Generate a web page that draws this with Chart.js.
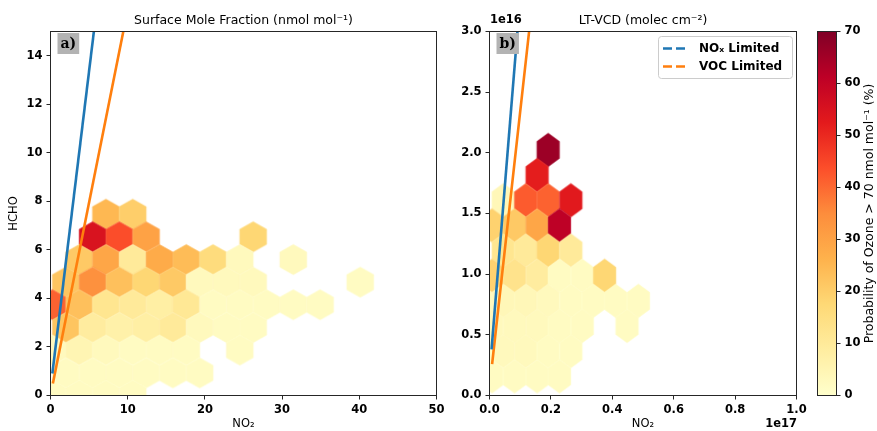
<!DOCTYPE html>
<html><head><meta charset="utf-8">
<script src="https://cdn.jsdelivr.net/npm/chart.js@4.4.0/dist/chart.umd.min.js"></script>
<style>
html,body{margin:0;padding:0;background:#fff;}
#wrap{position:relative;width:877px;height:431px;overflow:hidden;}
canvas{position:absolute;left:0;top:0;}
</style></head><body>
<div id="wrap">
<canvas id="cA" width="877" height="431"></canvas>
<canvas id="cB" width="877" height="431"></canvas>
<canvas id="cC" width="877" height="431"></canvas>
</div>
<script>
// ---------------- DATA ----------------
// Panel a) Surface mole fraction: hexbin centres (NO2, HCHO in nmol/mol) and probability (%)
const aX = [7.18,10.65,
  5.45,8.92,12.38,26.25,
  3.72,7.18,10.65,14.12,17.59,21.05,24.52,31.45,
  1.98,5.45,8.92,12.38,15.85,19.32,22.79,26.25,40.12,
  0.25,3.72,7.18,10.65,14.12,17.59,21.05,24.52,27.99,31.45,34.92,
  1.98,5.45,8.92,12.38,15.85,19.32,22.79,26.25,
  0.25,3.72,7.18,10.65,14.12,17.59,24.52,
  1.98,5.45,8.92,12.38,15.85,19.32,
  0.25,3.72,7.18,10.65];
const aY = [7.47,7.47,
  6.54,6.54,6.54,6.54,
  5.60,5.60,5.60,5.60,5.60,5.60,5.60,5.60,
  4.67,4.67,4.67,4.67,4.67,4.67,4.67,4.67,4.67,
  3.74,3.74,3.74,3.74,3.74,3.74,3.74,3.74,3.74,3.74,3.74,
  2.80,2.80,2.80,2.80,2.80,2.80,2.80,2.80,
  1.87,1.87,1.87,1.87,1.87,1.87,1.87,
  0.93,0.93,0.93,0.93,0.93,0.93,
  0,0,0,0];
const aP = [25,20,
  55,44,30,18,
  21,29,10,28,24,16,3,3,
  22,34,23,18,21,3,3,3,2,
  41,23,12,10,8,11,2,2,2,2,2,
  22,9,7,8,10,3,2,2,
  3,5,3,2,2,2,2,
  2,2,2,2,2,2,
  2,2,2,2];
// Panel b) LT-VCD: hexbin centres (NO2 in 1e17, HCHO in 1e16 molec/cm2) and probability (%)
const bX = [0.191,
  0.155,
  0.0446,0.118,0.191,0.265,
  0.0081,0.0815,0.155,0.228,
  0.0446,0.118,0.191,0.265,
  0.0081,0.0815,0.155,0.228,0.302,0.375,
  -0.029,0.0446,0.118,0.191,0.265,0.338,0.411,0.485,
  0.0081,0.0815,0.155,0.228,0.302,0.448,
  -0.029,0.0446,0.118,0.191,0.265,
  0.0081,0.0815,0.155,0.228];
const bY = [2.024,
  1.817,
  1.609,1.609,1.609,1.609,
  1.402,1.402,1.402,1.402,
  1.195,1.195,1.195,1.195,
  0.987,0.987,0.987,0.987,0.987,0.987,
  0.780,0.780,0.780,0.780,0.780,0.780,0.780,0.780,
  0.573,0.573,0.573,0.573,0.573,0.573,
  0.366,0.366,0.366,0.366,0.366,
  0.158,0.158,0.158,0.158];
const bP = [66,
  52,
  4,42,41,53,
  19,21,29,61,
  12,10,18,10,
  19,13,9,2,2,18,
  3,4,4,3,2,2,2,2,
  3,3,3,2,2,2,
  2,3,3,2,2,
  2,2,2,2];
// Regime lines
const noxAX = [0.26, 5.62], noxAY = [0.96, 15.0];
const vocAX = [0.34, 9.43], vocAY = [0.55, 15.0];
const noxBX = [0.007, 0.091], noxBY = [0.39, 3.0];
const vocBX = [0.009, 0.129], vocBY = [0.27, 3.0];
// Hexagon sizes (data units): width, height
const A_SX = 3.467, A_H = 1.245;
const B_SX = 0.0734, B_H = 0.2767;
// Axis ticks / ranges
const aXTicks = {min:0, max:50, step:10};
const aYTicks = {min:0, max:15, step:2};
const bXTicks = {min:0, max:1.0, step:0.2};
const bYTicks = {min:0, max:3.0, step:0.5};
const CBAR_MIN = 0, CBAR_MAX = 70, CBAR_STEP = 10;
const legendLabels = ['NOₓ Limited', 'VOC Limited'];

// ---------------- helpers ----------------
const FAM = "'DejaVu Sans', sans-serif";
Chart.defaults.font.family = FAM;
const YLORRD = ['#ffffcc','#ffeda0','#fed976','#feb24c','#fd8d3c','#fc4e2a','#e31a1c','#bd0026','#800026'];
const STOPS = YLORRD.map(h => [parseInt(h.slice(1,3),16),parseInt(h.slice(3,5),16),parseInt(h.slice(5,7),16)]);
function cmap(p){
  let t = (p-CBAR_MIN)/(CBAR_MAX-CBAR_MIN); t = Math.max(0, Math.min(1, t));
  const s = t*8; const i = Math.min(7, Math.floor(s)); const f = s-i;
  const a = STOPS[i], b = STOPS[i+1];
  return 'rgb(' + a.map((v,k)=>Math.round(v+(b[k]-v)*f)).join(',') + ')';
}
const hexCache = {};
function hexStyle(ctx, sxData, hData){
  if (!ctx.raw) return 'circle';
  const ch = ctx.chart, xs = ch.scales.x, ys = ch.scales.y;
  const w = Math.abs(xs.getPixelForValue(sxData) - xs.getPixelForValue(0));
  const h = Math.abs(ys.getPixelForValue(hData) - ys.getPixelForValue(0));
  if (!isFinite(w) || !isFinite(h) || w <= 0 || h <= 0) return 'circle';
  const col = cmap(ctx.raw.p);
  const key = col + '|' + w.toFixed(2) + '|' + h.toFixed(2);
  if (hexCache[key]) return hexCache[key];
  const W = Math.ceil(w) + 4, H = Math.ceil(h) + 4;
  const c = document.createElement('canvas'); c.width = W; c.height = H;
  const g = c.getContext('2d'); const cx = W/2, cy = H/2;
  g.beginPath();
  g.moveTo(cx, cy-h/2); g.lineTo(cx+w/2, cy-h/4); g.lineTo(cx+w/2, cy+h/4);
  g.lineTo(cx, cy+h/2); g.lineTo(cx-w/2, cy+h/4); g.lineTo(cx-w/2, cy-h/4); g.closePath();
  g.fillStyle = col; g.fill(); g.strokeStyle = col; g.lineWidth = 0.6; g.stroke();
  hexCache[key] = c; return c;
}
const pts = (xs, ys) => xs.map((x,i)=>({x, y: ys[i]}));
const hexPts = (xs, ys, ps) => xs.map((x,i)=>({x, y: ys[i], p: ps[i]}));

const TICK_FONT = {family: FAM, size: 11.5, weight: 'bold'};
const framePlugin = {
  id: 'frame',
  afterDraw(chart){
    const {ctx, chartArea: a} = chart;
    ctx.save(); ctx.strokeStyle = '#262626'; ctx.lineWidth = 1;
    ctx.strokeRect(a.left, a.top, a.right-a.left, a.bottom-a.top);
    ctx.restore();
  }
};
function panelLabel(txt){
  return {
    id: 'plabel',
    afterDraw(chart){
      const {ctx, chartArea: a} = chart;
      ctx.save();
      ctx.font = "bold 14px 'DejaVu Serif', serif";
      const tw = ctx.measureText(txt).width;
      const x0 = a.left + 7, y0 = a.top + 1.5;
      ctx.fillStyle = '#b3b3b3';
      ctx.fillRect(x0, y0, tw + 6, 21);
      ctx.fillStyle = '#000'; ctx.textBaseline = 'middle';
      ctx.fillText(txt, x0 + 3, y0 + 11);
      ctx.restore();
    }
  };
}
function axisCommon(t, fit, titleText, titlePad){
  return {
    type: 'linear', min: t.min, max: t.max,
    ticks: {stepSize: t.step, includeBounds: false, font: TICK_FONT, color: '#000', padding: 4,
            callback: v => (t.step < 1 ? v.toFixed(1) : String(v))},
    grid: {display: true, drawOnChartArea: false, drawTicks: true, tickLength: 4, color: '#262626', lineWidth: 1},
    border: {display: false},
    title: {display: !!titleText, text: titleText || '', color: '#000', font: {family: FAM, size: 11.5}, padding: titlePad || 0},
    afterFit: fit
  };
}
function lineDS(xs, ys, color){
  return {type: 'line', data: pts(xs, ys), borderColor: color, backgroundColor: color, borderWidth: 2.6,
          pointRadius: 0, fill: false, order: 0, clip: 0, borderCapStyle: 'square', tension: 0};
}
function hexDS(xs, ys, ps, sx, h){
  return {type: 'scatter', data: hexPts(xs, ys, ps), pointStyle: ctx => hexStyle(ctx, sx, h),
          pointRadius: 30, borderWidth: 0, order: 5, clip: 0};
}
function titleOpt(text){
  return {display: true, text, fullSize: false, color: '#000', font: {family: FAM, size: 12.5, weight: 'normal'},
          padding: {top: 13.5, bottom: 3}};
}

// ---------------- Panel a ----------------
new Chart(document.getElementById('cA'), {
  type: 'scatter',
  data: {datasets: [lineDS(noxAX, noxAY, '#1f77b4'), lineDS(vocAX, vocAY, '#ff7f0e'), hexDS(aX, aY, aP, A_SX, A_H)]},
  options: {
    responsive: false, animation: false, events: [], devicePixelRatio: 1,
    layout: {padding: {left: 0, right: 440.5, top: 0, bottom: 0}},
    plugins: {legend: {display: false}, tooltip: {enabled: false}, title: titleOpt('Surface Mole Fraction (nmol mol⁻¹)')},
    scales: {
      x: axisCommon(aXTicks, s => { s.height = 35.5; }, 'NO₂', {top: 0, bottom: 0}),
      y: axisCommon(aYTicks, s => { s.width = 50.5; }, 'HCHO', {top: 7, bottom: 0})
    }
  },
  plugins: [framePlugin, panelLabel('a)')]
});

// ---------------- Panel b ----------------
const legendPlugin = {
  id: 'legbox',
  afterDraw(chart){
    const {ctx} = chart;
    ctx.save();
    const x = 658.5, y = 36.5, w = 134, h = 42, r = 3;
    ctx.beginPath();
    ctx.moveTo(x+r, y); ctx.lineTo(x+w-r, y); ctx.arcTo(x+w, y, x+w, y+r, r);
    ctx.lineTo(x+w, y+h-r); ctx.arcTo(x+w, y+h, x+w-r, y+h, r);
    ctx.lineTo(x+r, y+h); ctx.arcTo(x, y+h, x, y+h-r, r);
    ctx.lineTo(x, y+r); ctx.arcTo(x, y, x+r, y, r); ctx.closePath();
    ctx.fillStyle = 'rgba(255,255,255,0.8)'; ctx.fill();
    ctx.strokeStyle = '#cccccc'; ctx.lineWidth = 1; ctx.stroke();
    const cols = ['#1f77b4', '#ff7f0e'];
    const ys = [48.5, 66.5];
    for (let i = 0; i < 2; i++){
      ctx.strokeStyle = cols[i]; ctx.lineWidth = 2.6; ctx.setLineDash([9, 4]);
      ctx.beginPath(); ctx.moveTo(663, ys[i]); ctx.lineTo(688, ys[i]); ctx.stroke();
      ctx.setLineDash([]);
      ctx.fillStyle = '#000'; ctx.font = "bold 12px " + FAM; ctx.textBaseline = 'middle';
      ctx.fillText(legendLabels[i], 699, ys[i] + 0.5);
    }
    // offset texts
    ctx.font = "bold 11.5px " + FAM; ctx.textBaseline = 'middle';
    ctx.textAlign = 'left'; ctx.fillText('1e16', 490, 20);
    ctx.textAlign = 'right'; ctx.fillText('1e17', 797, 424);
    ctx.restore();
  }
};
new Chart(document.getElementById('cB'), {
  type: 'scatter',
  data: {datasets: [lineDS(noxBX, noxBY, '#1f77b4'), lineDS(vocBX, vocBY, '#ff7f0e'), hexDS(bX, bY, bP, B_SX, B_H)]},
  options: {
    responsive: false, animation: false, events: [], devicePixelRatio: 1,
    layout: {padding: {left: 440, right: 80.5, top: 0, bottom: 0}},
    plugins: {legend: {display: false}, tooltip: {enabled: false}, title: titleOpt('LT-VCD (molec cm⁻²)')},
    scales: {
      x: axisCommon(bXTicks, s => { s.height = 35.5; }, 'NO₂', {top: 0, bottom: 0}),
      y: axisCommon(bYTicks, s => { s.width = 49.5; }, '', 0)
    }
  },
  plugins: [framePlugin, panelLabel('b)'), legendPlugin]
});

// ---------------- Colorbar ----------------
const cbarLabelPlugin = {
  id: 'cbl',
  afterDraw(chart){
    const {ctx, chartArea: a} = chart;
    ctx.save();
    ctx.translate(870, (a.top + a.bottom)/2);
    ctx.rotate(-Math.PI/2);
    ctx.font = "12.5px " + FAM; ctx.fillStyle = '#000';
    ctx.textAlign = 'center'; ctx.textBaseline = 'middle';
    ctx.fillText('Probability of Ozone > 70 nmol mol⁻¹ (%)', 0, 0);
    ctx.restore();
  }
};
new Chart(document.getElementById('cC'), {
  type: 'bar',
  data: {labels: [''], datasets: [{
    data: [[CBAR_MIN, CBAR_MAX]], borderWidth: 0, barPercentage: 1, categoryPercentage: 1,
    backgroundColor: ctx => {
      const a = ctx.chart.chartArea; if (!a) return '#ffffcc';
      const g = ctx.chart.ctx.createLinearGradient(0, a.bottom, 0, a.top);
      YLORRD.forEach((c, i) => g.addColorStop(i/8, c));
      return g;
    }
  }]},
  options: {
    responsive: false, animation: false, events: [], devicePixelRatio: 1,
    layout: {padding: {left: 817.5, right: 0, top: 31.5, bottom: 35.5}},
    plugins: {legend: {display: false}, tooltip: {enabled: false}},
    scales: {
      x: {display: false},
      y: {position: 'right', min: CBAR_MIN, max: CBAR_MAX,
          ticks: {stepSize: CBAR_STEP, font: TICK_FONT, color: '#000', padding: 4},
          grid: {display: true, drawOnChartArea: false, drawTicks: true, tickLength: 4, color: '#262626'},
          border: {display: false},
          afterFit: s => { s.width = 40.5; }}
    }
  },
  plugins: [framePlugin, cbarLabelPlugin]
});
</script>
</body></html>
